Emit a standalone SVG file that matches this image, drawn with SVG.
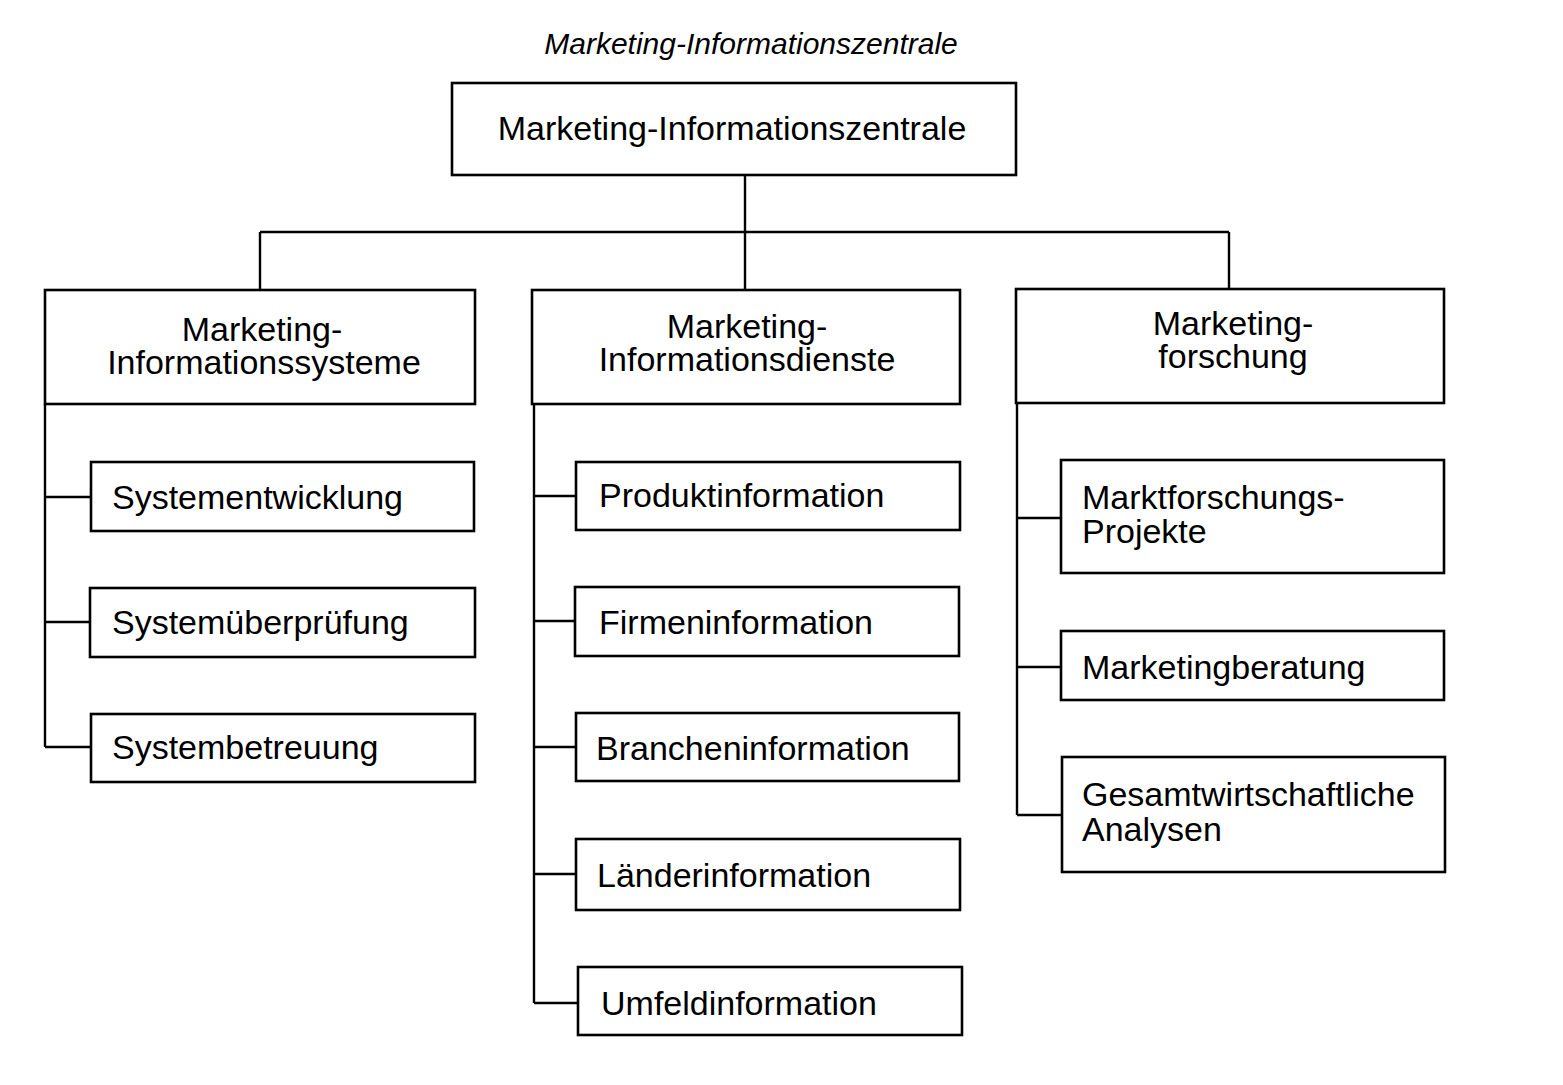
<svg xmlns="http://www.w3.org/2000/svg" width="1563" height="1085" viewBox="0 0 1563 1085">
<style>
.box{fill:#fff;stroke:#000;stroke-width:2.6}
.ln{fill:none;stroke:#000;stroke-width:2.4}
text{font-family:"Liberation Sans",Arial,sans-serif;font-size:34px;fill:#000}
.c{text-anchor:middle}
.t{font-style:italic;font-size:30px}
</style>
<rect width="1563" height="1085" fill="#fff"/>
<text class="t c" x="751" y="54">Marketing-Informationszentrale</text>
<g id="connectors">
<path class="ln" d="M745 175V290M260 232H1229M260 232V290M1229 232V289"/>
<path class="ln" d="M45 404V747M45 497H91M45 622H90M45 747H91"/>
<path class="ln" d="M534 404V1003M534 496H576M534 621H575M534 747H576M534 874H576M534 1003H578"/>
<path class="ln" d="M1017 403V815M1017 518H1061M1017 667H1061M1017 815H1062"/>
</g>
<g id="n0"><rect class="box" x="452" y="83" width="564" height="92"/><text class="c" x="732" y="140">Marketing-Informationszentrale</text></g>
<g id="n1"><rect class="box" x="45" y="290" width="430" height="114"/><text class="c" x="262" y="341">Marketing-</text><text class="c" x="264" y="374">Informationssysteme</text></g>
<g id="n2"><rect class="box" x="532" y="290" width="428" height="114"/><text class="c" x="747" y="338">Marketing-</text><text class="c" x="747" y="371">Informationsdienste</text></g>
<g id="n3"><rect class="box" x="1016" y="289" width="428" height="114"/><text class="c" x="1233" y="335">Marketing-</text><text class="c" x="1233" y="368">forschung</text></g>
<g id="n4"><rect class="box" x="91" y="462" width="383" height="69"/><text x="112" y="509">Systementwicklung</text></g>
<g id="n5"><rect class="box" x="90" y="588" width="385" height="69"/><text x="112" y="634">Systemüberprüfung</text></g>
<g id="n6"><rect class="box" x="91" y="714" width="384" height="68"/><text x="112" y="759">Systembetreuung</text></g>
<g id="n7"><rect class="box" x="576" y="462" width="384" height="68"/><text x="599" y="507">Produktinformation</text></g>
<g id="n8"><rect class="box" x="575" y="587" width="384" height="69"/><text x="599" y="634">Firmeninformation</text></g>
<g id="n9"><rect class="box" x="576" y="713" width="383" height="68"/><text x="596" y="760">Brancheninformation</text></g>
<g id="n10"><rect class="box" x="576" y="839" width="384" height="71"/><text x="597" y="887">Länderinformation</text></g>
<g id="n11"><rect class="box" x="578" y="967" width="384" height="68"/><text x="601" y="1015">Umfeldinformation</text></g>
<g id="n12"><rect class="box" x="1061" y="460" width="383" height="113"/><text x="1082" y="509">Marktforschungs-</text><text x="1082" y="543">Projekte</text></g>
<g id="n13"><rect class="box" x="1061" y="631" width="383" height="69"/><text x="1082" y="679">Marketingberatung</text></g>
<g id="n14"><rect class="box" x="1062" y="757" width="383" height="115"/><text x="1082" y="806">Gesamtwirtschaftliche</text><text x="1082" y="841">Analysen</text></g>
</svg>
